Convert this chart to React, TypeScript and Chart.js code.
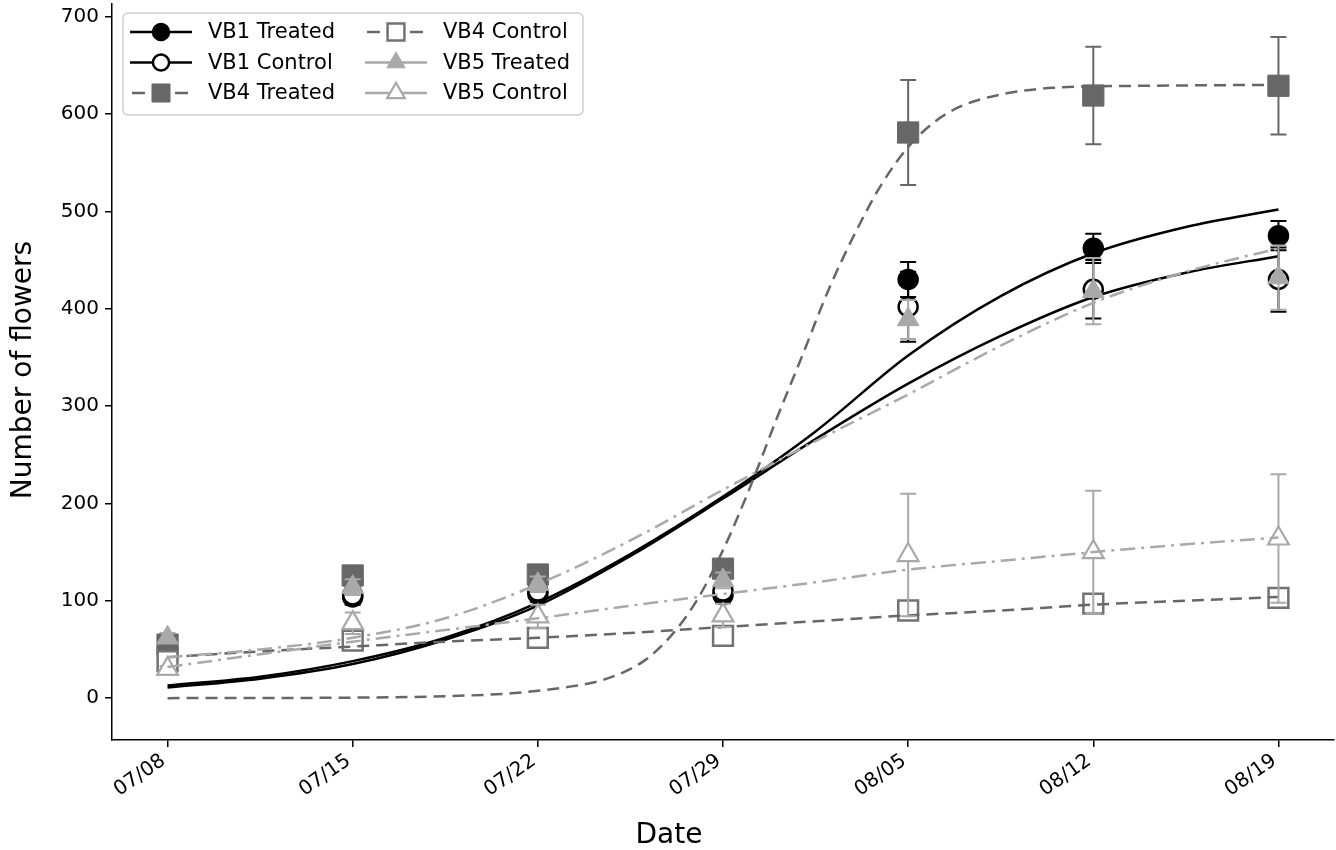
import React, { useEffect, useRef } from 'react';
import { Chart, registerables } from 'chart.js';

Chart.register(...registerables);

// ---------- data ----------
const dayTicks = [0, 7, 14, 21, 28, 35, 42];
const dateLabels = ['07/08', '07/15', '07/22', '07/29', '08/05', '08/12', '08/19'];
const yTicks = [0, 100, 200, 300, 400, 500, 600, 700];

const seriesNames = ['VB1 Treated', 'VB1 Control', 'VB4 Treated', 'VB4 Control', 'VB5 Treated', 'VB5 Control'];

const vb1TreatedMean = [52, 104, 107, 106, 430, 462, 475];
const vb1TreatedErr = [5, 8, 8, 8, 18, 15, 15];
const vb1ControlMean = [50, 106, 110, 110, 402, 420, 430];
const vb1ControlErr = [5, 8, 8, 8, 36, 30, 33];
const vb4TreatedMean = [55, 126, 127, 133, 581, 619, 629];
const vb4TreatedErr = [5, 6, 6, 6, 54, 50, 50];
const vb4ControlMean = [38, 59, 62, 64, 90, 97, 103];
const vb4ControlErr = [3, 4, 4, 4, 6, 6, 6];
const vb5TreatedMean = [62, 114, 117, 121, 389, 418, 432];
const vb5TreatedErr = [5, 8, 8, 8, 20, 34, 33];
const vb5ControlMean = [30, 77, 84, 85, 147, 150, 164];
const vb5ControlErr = [3, 11, 12, 12, 63, 63, 66];

// fitted curves
const fitDays = [0, 3.5, 7, 10.5, 14, 17.5, 21, 24.5, 28, 31.5, 35, 38.5, 42];
const vb1TreatedFit = [13, 22, 38, 62, 98, 148, 207, 274, 352, 413, 457, 484, 502];
const vb1ControlFit = [11, 20, 35, 60, 95, 146, 205, 266, 323, 372, 412, 437, 454];
const vb4ControlFit = [42, 48, 53, 58, 62, 67, 73, 79, 85, 90, 96, 100, 104];
const vb5TreatedFit = [42, 50, 62, 82, 117, 162, 214, 264, 312, 362, 406, 438, 462];
const vb5ControlFit = [32, 45, 58, 70, 82, 95, 107, 119, 132, 141, 150, 158, 165];
const vb4TreatedFitDays = [0, 7, 10.5, 13, 15, 16.5, 18, 19, 20, 21, 22, 23, 24, 25, 26, 27, 28, 29, 30, 31.5, 33.5, 37, 42];
const vb4TreatedFit = [0, 0.5, 2, 5, 11, 19, 38, 63, 100, 152, 215, 285, 352, 420, 478, 528, 566, 592, 608, 620, 627, 629, 630];

// ---------- styles ----------
const C_BLACK = '#000000';
const C_DARK = '#676767';
const C_DARK2 = '#727272';
const C_LIGHT = '#a9a9a9';
const DASH = [12, 7];
const DASHDOT = [15, 6, 3, 6];

type Style = {
  shape: 'circle' | 'rect' | 'triangle';
  radius: number;
  fill: string;
  edge: string;
  edgeWidth: number;
  line: string;
  dash: number[];
  legendDash: number[];
  err: string;
};

const styles: Style[] = [
  { shape: 'circle', radius: 10, fill: C_BLACK, edge: C_BLACK, edgeWidth: 1.5, line: C_BLACK, dash: [], legendDash: [], err: C_BLACK },
  { shape: 'circle', radius: 9.5, fill: '#ffffff', edge: C_BLACK, edgeWidth: 2.5, line: C_BLACK, dash: [], legendDash: [], err: C_BLACK },
  { shape: 'rect', radius: 15, fill: C_DARK, edge: C_DARK, edgeWidth: 1, line: C_DARK, dash: DASH, legendDash: [13, 30, 13, 10], err: C_DARK },
  { shape: 'rect', radius: 14, fill: '#ffffff', edge: C_DARK2, edgeWidth: 2.5, line: C_DARK, dash: DASH, legendDash: [13, 30, 13, 10], err: C_DARK2 },
  { shape: 'triangle', radius: 12.5, fill: C_LIGHT, edge: C_LIGHT, edgeWidth: 1, line: C_LIGHT, dash: DASHDOT, legendDash: [], err: C_LIGHT },
  { shape: 'triangle', radius: 12, fill: '#ffffff', edge: C_LIGHT, edgeWidth: 2.2, line: C_LIGHT, dash: DASHDOT, legendDash: [], err: C_LIGHT },
];

const means = [vb1TreatedMean, vb1ControlMean, vb4TreatedMean, vb4ControlMean, vb5TreatedMean, vb5ControlMean];
const errs = [vb1TreatedErr, vb1ControlErr, vb4TreatedErr, vb4ControlErr, vb5TreatedErr, vb5ControlErr];
const fits = [
  { d: fitDays, v: vb1TreatedFit },
  { d: fitDays, v: vb1ControlFit },
  { d: vb4TreatedFitDays, v: vb4TreatedFit },
  { d: fitDays, v: vb4ControlFit },
  { d: fitDays, v: vb5TreatedFit },
  { d: fitDays, v: vb5ControlFit },
];

const FONT = "'DejaVu Sans', sans-serif";

function drawMarker(ctx: CanvasRenderingContext2D, s: Style, x: number, y: number, scale: number) {
  const r = s.radius * scale;
  ctx.save();
  ctx.setLineDash([]);
  ctx.beginPath();
  if (s.shape === 'circle') {
    ctx.arc(x, y, r, 0, Math.PI * 2);
  } else if (s.shape === 'rect') {
    const h = Math.SQRT1_2 * r;
    ctx.rect(x - h, y - h, 2 * h, 2 * h);
  } else {
    let a = 0;
    ctx.moveTo(x + Math.sin(a) * r, y - Math.cos(a) * r);
    a += (2 * Math.PI) / 3;
    ctx.lineTo(x + Math.sin(a) * r, y - Math.cos(a) * r);
    a += (2 * Math.PI) / 3;
    ctx.lineTo(x + Math.sin(a) * r, y - Math.cos(a) * r);
    ctx.closePath();
  }
  ctx.fillStyle = s.fill;
  ctx.fill();
  ctx.lineWidth = s.edgeWidth;
  ctx.strokeStyle = s.edge;
  ctx.stroke();
  ctx.restore();
}

const errorBarPlugin = {
  id: 'errorBars',
  beforeDatasetDraw(chart: any, args: any) {
    const ds: any = chart.data.datasets[args.index];
    if (!ds.errors) return;
    const ctx = chart.ctx as CanvasRenderingContext2D;
    const yScale = chart.scales.y;
    const meta = args.meta;
    ctx.save();
    ctx.strokeStyle = ds.errColor;
    ctx.lineWidth = 2;
    ctx.setLineDash([]);
    meta.data.forEach((pt: any, j: number) => {
      const v = ds.data[j].y;
      const e = ds.errors[j];
      const yt = yScale.getPixelForValue(v + e);
      const yb = yScale.getPixelForValue(v - e);
      const x = pt.x;
      ctx.beginPath();
      ctx.moveTo(x, yt);
      ctx.lineTo(x, yb);
      ctx.moveTo(x - 8, yt);
      ctx.lineTo(x + 8, yt);
      ctx.moveTo(x - 8, yb);
      ctx.lineTo(x + 8, yb);
      ctx.stroke();
    });
    ctx.restore();
  },
};

const decorPlugin = {
  id: 'decor',
  afterDraw(chart: any) {
    const ctx = chart.ctx as CanvasRenderingContext2D;
    ctx.save();
    ctx.fillStyle = '#000';

    // rotated date tick labels, placed from the x scale
    const xScale = chart.scales.x;
    ctx.font = `20px ${FONT}`;
    ctx.textAlign = 'right';
    ctx.textBaseline = 'middle';
    dayTicks.forEach((d, i) => {
      const px = xScale.getPixelForValue(d);
      ctx.save();
      ctx.translate(px - 4, 759);
      ctx.rotate((-35 * Math.PI) / 180);
      ctx.fillText(dateLabels[i], 0, 0);
      ctx.restore();
    });

    // axis titles
    ctx.font = `28px ${FONT}`;
    ctx.textAlign = 'center';
    ctx.textBaseline = 'alphabetic';
    ctx.fillText('Date', 669, 843);
    ctx.save();
    ctx.translate(31, 370);
    ctx.rotate(-Math.PI / 2);
    ctx.fillText('Number of flowers', 0, 0);
    ctx.restore();

    // legend
    const bx = 123, by = 13, bw = 460, bh = 102;
    ctx.beginPath();
    (ctx as any).roundRect(bx, by, bw, bh, 5);
    ctx.fillStyle = 'rgba(255,255,255,0.85)';
    ctx.fill();
    ctx.lineWidth = 1.5;
    ctx.strokeStyle = '#cfcfcf';
    ctx.stroke();

    const cols = [130, 365];
    const rows = [32, 62.5, 93];
    ctx.font = `21px ${FONT}`;
    ctx.textAlign = 'left';
    ctx.textBaseline = 'middle';
    seriesNames.forEach((name, i) => {
      const s = styles[i];
      const x0 = cols[Math.floor(i / 3)];
      const y0 = rows[i % 3];
      ctx.save();
      ctx.strokeStyle = s.line;
      ctx.lineWidth = 2.5;
      ctx.setLineDash(s.legendDash);
      ctx.beginPath();
      ctx.moveTo(x0 + (s.legendDash.length ? 2 : 0), y0);
      ctx.lineTo(x0 + 62, y0);
      ctx.stroke();
      ctx.restore();
      drawMarker(ctx, s, x0 + 31, y0, 0.85);
      ctx.fillStyle = '#000';
      ctx.fillText(name, x0 + 78, y0 + 1);
    });
    ctx.restore();
  },
};

export default function App() {
  const ref = useRef<HTMLCanvasElement | null>(null);

  useEffect(() => {
    if (!ref.current) return;
    Chart.defaults.font.family = FONT;
    Chart.defaults.color = '#000';

    const datasets: any[] = [];
    let p = 0;
    seriesNames.forEach((name, i) => {
      const s = styles[i];
      datasets.push({
        type: 'line',
        label: name,
        data: dayTicks.map((d, j) => ({ x: d, y: means[i][j] })),
        showLine: false,
        errors: errs[i],
        errColor: s.err,
        pointStyle: s.shape,
        pointRadius: s.radius,
        pointHoverRadius: s.radius,
        pointBackgroundColor: s.fill,
        pointBorderColor: s.edge,
        pointBorderWidth: s.edgeWidth,
        borderColor: s.line,
        backgroundColor: s.fill,
        order: -p,
        clip: false,
      });
      p++;
      datasets.push({
        type: 'line',
        label: name + ' fit',
        data: fits[i].d.map((d, j) => ({ x: d, y: fits[i].v[j] })),
        borderColor: s.line,
        borderWidth: 2.5,
        borderDash: s.dash,
        pointRadius: 0,
        pointHoverRadius: 0,
        fill: false,
        cubicInterpolationMode: 'monotone',
        order: -p,
      });
      p++;
    });

    const chart = new Chart(ref.current, {
      type: 'line',
      data: { datasets },
      options: {
        animation: false,
        responsive: false,
        maintainAspectRatio: false,
        devicePixelRatio: 1,
        layout: { autoPadding: false, padding: { top: 4, right: 2, left: 0, bottom: 0 } },
        plugins: {
          legend: { display: false },
          tooltip: { enabled: false },
        },
        scales: {
          x: {
            type: 'linear',
            min: -2.1,
            max: 44.1,
            afterBuildTicks: (scale: any) => {
              scale.ticks = dayTicks.map((v) => ({ value: v }));
            },
            afterFit: (scale: any) => {
              scale.height = 110;
              scale.paddingLeft = 0;
              scale.paddingRight = 0;
              scale.paddingTop = 0;
              scale.paddingBottom = 0;
            },
            grid: { display: true, drawOnChartArea: false, drawTicks: true, tickLength: 7, color: '#000', lineWidth: 1.5 },
            border: { display: true, color: '#000', width: 1.5 },
            ticks: {
              display: false,
              autoSkip: false,
              callback: (_v: any, idx: number) => dateLabels[idx],
            },
          },
          y: {
            type: 'linear',
            min: -43,
            max: 713,
            afterBuildTicks: (scale: any) => {
              scale.ticks = yTicks.map((v) => ({ value: v }));
            },
            afterFit: (scale: any) => {
              scale.width = 112;
              scale.paddingLeft = 0;
              scale.paddingRight = 0;
              scale.paddingTop = 0;
              scale.paddingBottom = 0;
            },
            grid: { display: true, drawOnChartArea: false, drawTicks: true, tickLength: 7, color: '#000', lineWidth: 1.5 },
            border: { display: true, color: '#000', width: 1.5 },
            ticks: {
              padding: 6,
              font: { size: 20, family: FONT },
              color: '#000',
              callback: (v: any) => String(v),
            },
          },
        },
      } as any,
      plugins: [errorBarPlugin, decorPlugin],
    });

    return () => {
      chart.destroy();
    };
  }, []);

  return (
    <div style={{ position: 'absolute', left: 0, top: 0, width: 1336, height: 850, background: '#fff' }}>
      <canvas ref={ref} width={1336} height={850} style={{ width: 1336, height: 850, display: 'block' }} />
    </div>
  );
}
